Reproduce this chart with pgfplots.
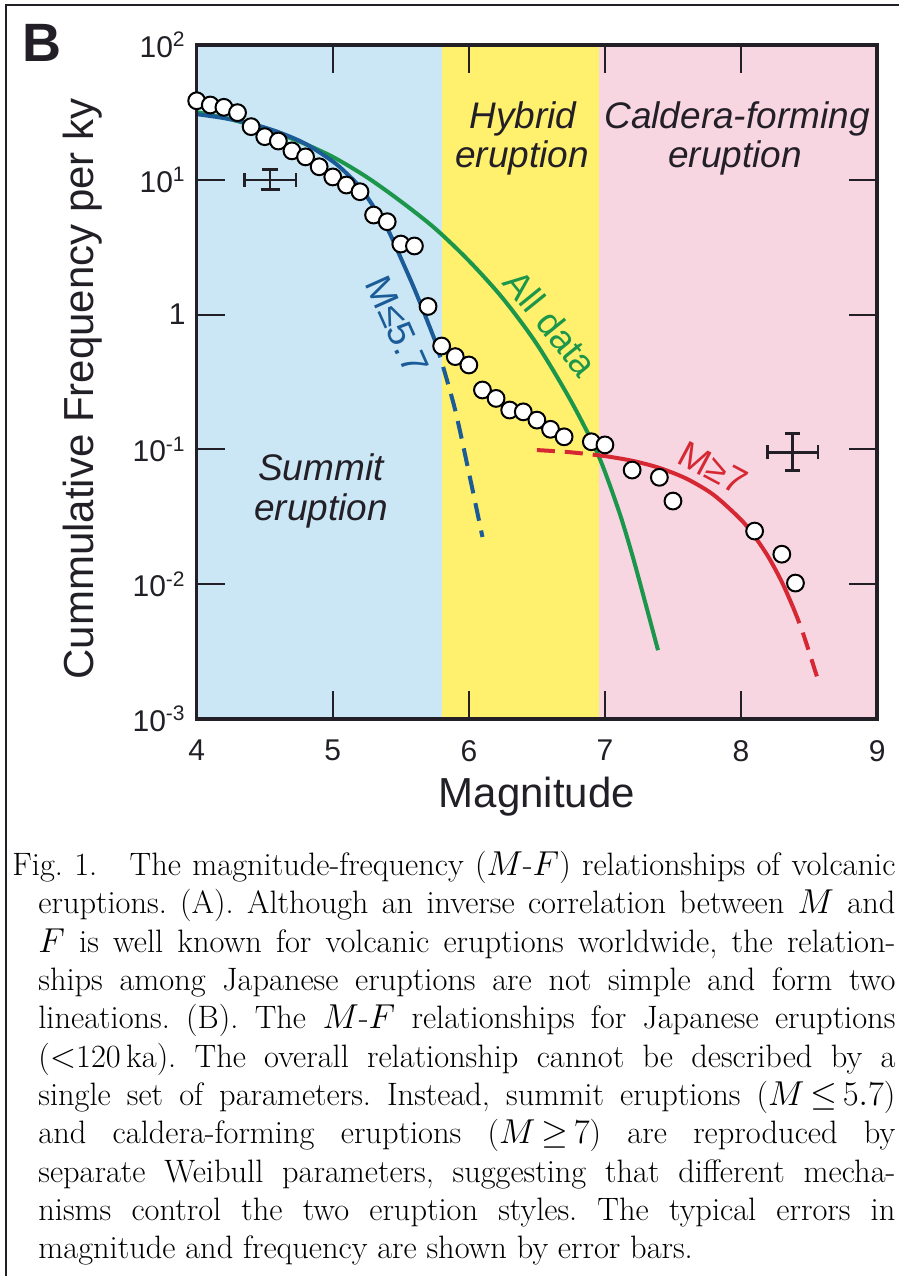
\documentclass[border=0pt]{standalone}
\usepackage{pgfplots}
\pgfplotsset{compat=1.18}
\usepackage{fontspec}
\newfontfamily\pf{Liberation Sans}
\definecolor{bgblue}{RGB}{203,230,245}
\definecolor{bgyellow}{RGB}{255,240,110}
\definecolor{bgpink}{RGB}{247,214,226}
\definecolor{cgreen}{RGB}{28,150,75}
\definecolor{cblue}{RGB}{27,92,152}
\definecolor{cred}{RGB}{214,40,50}
\definecolor{ink}{RGB}{35,31,38}
\begin{document}
\begin{tikzpicture}
\useasboundingbox (0,0) rectangle (449.5pt,-638pt);
\begin{axis}[
  at={(98.35pt,-359.5pt)}, anchor=south west,
  scale only axis, width=340.2pt, height=337pt,
  xmin=4, xmax=9, ymode=log, ymin=1e-3, ymax=1e2,
  xtick={4,5,6,7,8,9}, xticklabels={4,5,6,7,8,9},
  ytick={1e-3,1e-2,1e-1,1,10,100},
  yticklabels={10\textsuperscript{-3},10\textsuperscript{-2},10\textsuperscript{-1},1,10\textsuperscript{1},10\textsuperscript{2}},
  yminorticks=false, xminorticks=false,
  tick align=inside, major tick length=14pt,
  tick style={line width=1pt, ink},
  axis line style={line width=1.8pt, ink},
  ticklabel style={font=\pf\fontsize{15}{18}\selectfont, text=ink},
  xticklabel style={yshift=-7pt},
  yticklabel style={xshift=-2pt},
  axis on top=true,
  clip=false,
]
\fill[bgblue] (axis cs:4,0.001) rectangle (axis cs:5.8,100);
\fill[bgyellow] (axis cs:5.8,0.001) rectangle (axis cs:6.96,100);
\fill[bgpink] (axis cs:6.96,0.001) rectangle (axis cs:9,100);

\addplot[only marks, mark=*, mark size=4.2pt, mark options={fill=white, draw=black, line width=1pt}] coordinates {
(4.0,38.6) (4.1,35.9) (4.2,34.5) (4.3,31.5) (4.4,24.8) (4.5,20.9) (4.6,19.4) (4.7,16.4) (4.8,14.8) (4.9,12.5)
(5.0,10.5) (5.1,9.15) (5.2,8.16) (5.3,5.48) (5.4,4.89) (5.5,3.34) (5.6,3.23) (5.7,1.15) (5.8,0.585) (5.9,0.488)
(6.0,0.423) (6.1,0.276) (6.2,0.239) (6.3,0.196) (6.4,0.190) (6.5,0.165) (6.6,0.141) (6.7,0.124) (6.9,0.114) (7.0,0.108)
(7.2,0.0703) (7.4,0.0621) (7.5,0.0414) (8.1,0.0248) (8.3,0.0167) (8.4,0.0102)
};

% all data
\addplot[cgreen, line width=2pt, smooth] coordinates {
(4.0,31.8) (4.25,28.1) (4.5,23.7) (4.75,19.3) (5.0,14.8) (5.25,10.47) (5.5,6.92) (5.75,4.37)
(6.0,2.51) (6.25,1.318) (6.5,0.603) (6.75,0.229) (6.95,0.0912) (7.1,0.0355) (7.2,0.0166) (7.3,0.00708) (7.39,0.00324)
};
% M<=5.7
\addplot[cblue, line width=2pt, smooth] coordinates {
(4.0,30.7) (4.2,28.7) (4.4,26.1) (4.6,22.6) (4.8,18.5) (5.0,13.7) (5.1,11.2) (5.2,8.83) (5.3,6.31)
(5.4,4.37) (5.5,2.63) (5.6,1.55) (5.7,0.871) (5.75,0.646)
};
\addplot[cblue, line width=2pt, smooth, dash pattern=on 9pt off 5pt] coordinates {
(5.75,0.646) (5.8,0.447) (5.9,0.195) (6.0,0.0676) (6.1,0.0224)
};
% M>=7
\addplot[cred, line width=2pt, smooth, dash pattern=on 9pt off 5pt] coordinates {
(6.5,0.0989) (6.75,0.0952) (7.0,0.0893)
};
\addplot[cred, line width=2pt, smooth] coordinates {
(7.0,0.0893) (7.2,0.0824) (7.4,0.0729) (7.6,0.0606) (7.8,0.0459) (8.0,0.0301) (8.1,0.0226) (8.2,0.0160) (8.3,0.0104) (8.38,0.00684)
};
\addplot[cred, line width=2pt, smooth, dash pattern=on 9pt off 5pt] coordinates {
(8.38,0.00684) (8.45,0.0045) (8.55,0.00219) (8.57,0.00186)
};
% error bars (typical errors)
\addplot[draw=none, mark=none, forget plot, error bars/.cd, x dir=both, x explicit, y dir=both, y explicit,
  error bar style={line width=1.3pt, draw=ink, solid}]
coordinates {
(4.54,10) += (0.19,1.97) -= (0.19,1.49)
(8.38,0.095) += (0.185,0.0365) -= (0.185,0.0255)
};
% caps of the error bars
\addplot[ink, line width=1.3pt, forget plot] coordinates {(4.35,8.87) (4.35,11.27)};
\addplot[ink, line width=1.3pt, forget plot] coordinates {(4.73,8.87) (4.73,11.27)};
\addplot[ink, line width=1.3pt, forget plot] coordinates {(4.48,11.97) (4.60,11.97)};
\addplot[ink, line width=1.3pt, forget plot] coordinates {(4.47,8.51) (4.61,8.51)};
\addplot[ink, line width=1.3pt, forget plot] coordinates {(8.195,0.0843) (8.195,0.107)};
\addplot[ink, line width=1.3pt, forget plot] coordinates {(8.565,0.0843) (8.565,0.107)};
\addplot[ink, line width=1.3pt, forget plot] coordinates {(8.325,0.1315) (8.435,0.1315)};
\addplot[ink, line width=1.3pt, forget plot] coordinates {(8.325,0.0695) (8.435,0.0695)};
\end{axis}
% labels
\node[font=\pf\bfseries\fontsize{27}{27}\selectfont, text=ink] at (21pt,-21.5pt) {B};
\node[font=\pf\itshape\fontsize{18.5}{20}\selectfont, text=ink, anchor=base] at (261.5pt,-64pt) {Hybrid};
\node[font=\pf\itshape\fontsize{18.5}{20}\selectfont, text=ink, anchor=base] at (261pt,-83.5pt) {eruption};
\node[font=\pf\itshape\fontsize{18.5}{20}\selectfont, text=ink, anchor=base] at (368.5pt,-64pt) {Caldera-forming};
\node[font=\pf\itshape\fontsize{18.5}{20}\selectfont, text=ink, anchor=base] at (367.5pt,-83.5pt) {eruption};
\node[font=\pf\itshape\fontsize{18.5}{20}\selectfont, text=ink, anchor=base] at (160.5pt,-240pt) {Summit};
\node[font=\pf\itshape\fontsize{18.5}{20}\selectfont, text=ink, anchor=base] at (160.5pt,-260pt) {eruption};
\node[font=\pf\fontsize{18.5}{20}\selectfont, text=cgreen, rotate=-51] at (275.5pt,-161.5pt) {All data};
\node[font=\pf\fontsize{18.5}{20}\selectfont, text=cblue, rotate=-66] at (198.5pt,-162.5pt) {M≤5.7};
\node[font=\pf\fontsize{18.5}{20}\selectfont, text=cred, rotate=-28] at (356.5pt,-234pt) {M≥7};
\node[font=\pf\fontsize{21}{24}\selectfont, text=ink, rotate=90] at (41.5pt,-194.5pt) {Cummulative Frequency per ky};
\node[font=\pf\fontsize{21}{24}\selectfont, text=ink] at (268.5pt,-398.5pt) {Magnitude};
% frame
\draw[line width=1.1pt, ink] (3pt,-638pt) -- (3pt,-2.5pt) -- (449.5pt,-2.5pt);
% caption
\node[anchor=north west, inner sep=0pt, text width=441.5pt, align=justify,
  font=\fontsize{16.2}{19.15}\selectfont] at (6pt,-425.5pt) {\frenchspacing\hyphenpenalty=10000\noindent\hangindent=13pt\hangafter=1
Fig.~1.\quad The magnitude-frequency ($M$-$F$) relationships of volcanic\linebreak
eruptions. (A). Although an inverse correlation between $M$ and\linebreak
$F$ is well known for volcanic eruptions worldwide, the relation-\linebreak
ships among Japanese eruptions are not simple and form two\linebreak
lineations. (B). The $M$-$F$ relationships for Japanese eruptions\linebreak
($<$120\,ka). The overall relationship cannot be described by a\linebreak
single set of parameters. Instead, summit eruptions ($M\,{\leq}\,5.7$)\linebreak
and caldera-forming eruptions ($M\,{\geq}\,7$) are reproduced by\linebreak
separate Weibull parameters, suggesting that different mecha-\linebreak
nisms control the two eruption styles. The typical errors in\linebreak
magnitude and frequency are shown by error bars.\par};
\end{tikzpicture}
\end{document}
